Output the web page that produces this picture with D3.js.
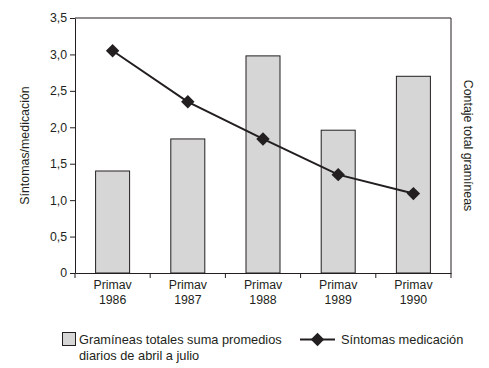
<!DOCTYPE html>
<html lang="es">
<head>
<meta charset="UTF-8">
<title>Gramíneas y síntomas</title>
<script src="https://cdn.jsdelivr.net/npm/d3@7"></script>
<style>
    body { margin: 0; background: #fff; }
    text { font-family: "Liberation Sans", Arial, sans-serif; fill: #231f20; }
</style>
</head>
<body>
<script>
    // datos
    var primavera = ["1986", "1987", "1988", "1989", "1990"];
    var gramineas = [1.40, 1.84, 2.98, 1.96, 2.70];
    var sintomas = [3.05, 2.35, 1.84, 1.35, 1.09];
    var yTicks = [0, 0.5, 1.0, 1.5, 2.0, 2.5, 3.0, 3.5];

    var width = 489, height = 368;
    var margin = {top: 18, right: 38, bottom: 95, left: 75};
    var ink = "#231f20";

    var svg = d3.select("body").append("svg")
        .attr("width", width)
        .attr("height", height);

    var x = d3.scaleBand()
        .domain(primavera)
        .range([margin.left, width - margin.right]);

    var y = d3.scaleLinear()
        .domain([0, 3.5])
        .range([height - margin.bottom, margin.top]);

    var fmt = function(d) { return d === 0 ? "0" : d3.format(".1f")(d).replace(".", ","); };

    // marco
    svg.append("path")
        .attr("fill", "none")
        .attr("stroke", ink)
        .attr("stroke-width", 1)
        .attr("d", `M${x.range()[0]},${y(3.5)}H${x.range()[1]}V${y(0)}`);

    // barras
    var bw = 34;
    svg.append("g").selectAll("rect")
        .data(gramineas)
        .enter()
        .append("rect")
        .attr("x", (d, i) => x(primavera[i]) + x.bandwidth() / 2 - bw / 2)
        .attr("y", d => y(d))
        .attr("width", bw)
        .attr("height", d => y(0) - y(d))
        .attr("fill", "#d6d6d6")
        .attr("stroke", ink)
        .attr("stroke-width", 1);

    // eje y
    var yAxis = svg.append("g")
        .attr("transform", `translate(${margin.left},0)`)
        .call(d3.axisLeft(y).tickValues(yTicks).tickFormat(fmt).tickSize(5).tickSizeOuter(0));
    yAxis.select(".domain").attr("stroke", ink);
    yAxis.selectAll(".tick line").attr("stroke", ink);
    yAxis.selectAll("text").attr("font-size", "12.3px").attr("x", -8).style("fill", ink);

    // eje x
    var xAxis = svg.append("g")
        .attr("transform", `translate(0,${y(0)})`)
        .call(d3.axisBottom(x).tickSize(0).tickFormat(""));
    xAxis.select(".domain").attr("stroke", ink);
    xAxis.selectAll(".tick").remove();

    var bounds = primavera.map(d => x(d)).concat([x.range()[1]]);
    svg.append("g").selectAll("line")
        .data(bounds)
        .enter()
        .append("line")
        .attr("x1", d => d).attr("x2", d => d)
        .attr("y1", y(0)).attr("y2", y(0) + 5)
        .attr("stroke", ink);

    var labels = svg.append("g").selectAll("text")
        .data(primavera)
        .enter()
        .append("text")
        .attr("text-anchor", "middle")
        .attr("font-size", "12.3px")
        .attr("transform", d => `translate(${x(d) + x.bandwidth() / 2},${y(0)})`);
    labels.append("tspan").attr("x", 0).attr("y", 16).text("Primav");
    labels.append("tspan").attr("x", 0).attr("y", 31).text(d => d);

    // línea de síntomas
    var line = d3.line()
        .x((d, i) => x(primavera[i]) + x.bandwidth() / 2)
        .y(d => y(d));

    svg.append("path")
        .datum(sintomas)
        .attr("fill", "none")
        .attr("stroke", ink)
        .attr("stroke-width", 2)
        .attr("d", line);

    var diamond = d3.symbol().type(d3.symbolSquare).size(90);
    svg.append("g").selectAll("path")
        .data(sintomas)
        .enter()
        .append("path")
        .attr("d", diamond)
        .attr("fill", ink)
        .attr("transform", (d, i) => `translate(${x(primavera[i]) + x.bandwidth() / 2},${y(d)}) rotate(45)`);

    // títulos de ejes
    svg.append("text")
        .attr("text-anchor", "middle")
        .attr("font-size", "12.4px")
        .attr("transform", `translate(29,${(y(0) + y(3.5)) / 2}) rotate(-90)`)
        .text("Síntomas/medicación");

    svg.append("text")
        .attr("text-anchor", "middle")
        .attr("font-size", "12.4px")
        .attr("transform", `translate(464,${(y(0) + y(3.5)) / 2}) rotate(90)`)
        .text("Contaje total gramíneas");

    // leyenda
    var leg = svg.append("g");
    leg.append("rect")
        .attr("x", 62.5).attr("y", 332.5)
        .attr("width", 13).attr("height", 13)
        .attr("fill", "#d6d6d6")
        .attr("stroke", ink);
    var lt = leg.append("text").attr("font-size", "12.8px");
    lt.append("tspan").attr("x", 79).attr("y", 344).text("Gramíneas totales suma promedios");
    lt.append("tspan").attr("x", 79).attr("y", 360).text("diarios de abril a julio");

    leg.append("line")
        .attr("x1", 300).attr("x2", 335)
        .attr("y1", 339.5).attr("y2", 339.5)
        .attr("stroke", ink).attr("stroke-width", 2);
    leg.append("path")
        .attr("d", diamond)
        .attr("fill", ink)
        .attr("transform", "translate(317.5,339.5) rotate(45)");
    leg.append("text")
        .attr("x", 341).attr("y", 344)
        .attr("font-size", "12.8px")
        .text("Síntomas medicación");
</script>
</body>
</html>
